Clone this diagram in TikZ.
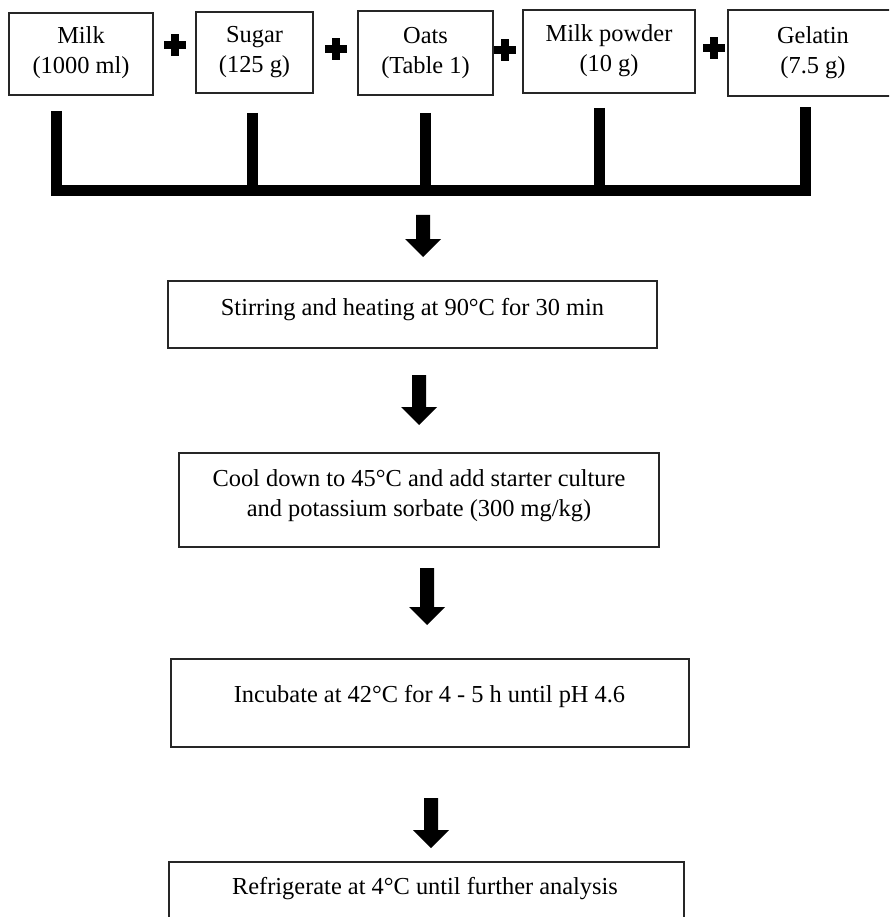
\documentclass[tikz,border=0pt]{standalone}
\usepackage{fontspec}
\setmainfont{Liberation Serif}
\tikzset{
  box/.style={draw=black!85, line width=1.6pt, rectangle, inner sep=0pt},
  lbl/.style={anchor=base, inner sep=0pt, font=\fontsize{24.4}{30}\selectfont},
  tlbl/.style={anchor=base, inner sep=0pt, font=\fontsize{24.4}{29.5}\selectfont},
  bar/.style={line width=11pt, line cap=butt, line join=miter},
  plussign/.pic={\fill (-11,-4) rectangle (11,4); \fill (-4,-11) rectangle (4,11);}
}
\newcommand\blockarrow[3]{% cx, top, tip
  \fill (#1-7,#2) -- (#1+7,#2) -- (#1+7,#3-18) -- (#1+18,#3-18) -- (#1,#3) -- (#1-18,#3-18) -- (#1-7,#3-18) -- cycle;}
\begin{document}
\begin{tikzpicture}[x=1pt,y=-1pt]
\useasboundingbox (0,0) rectangle (889,917);
\begin{scope}
\clip (0,0) rectangle (889,917);
% top ingredient boxes
\node[box, minimum width=144pt, minimum height=82pt] (milk) at (81,54) {};
\node[box, minimum width=117pt, minimum height=81pt] (sugar) at (254.5,52.5) {};
\node[box, minimum width=135pt, minimum height=84pt] (oats) at (425.5,53) {};
\node[box, minimum width=172pt, minimum height=83pt] (powder) at (609,51.5) {};
\node[box, minimum width=170pt, minimum height=86pt] (gelatin) at (813,53) {};
\node[tlbl] (milkt) at (81,44) {\begin{tabular}[t]{@{}c@{}}Milk\\(1000 ml)\end{tabular}};
\node[tlbl] (sugart) at (254.5,43) {\begin{tabular}[t]{@{}c@{}}Sugar\\(125 g)\end{tabular}};
\node[tlbl] (oatst) at (425.5,44) {\begin{tabular}[t]{@{}c@{}}Oats\\(Table 1)\end{tabular}};
\node[tlbl] (powdert) at (609,42) {\begin{tabular}[t]{@{}c@{}}Milk powder\\(10 g)\end{tabular}};
\node[tlbl] (gelatint) at (813,44) {\begin{tabular}[t]{@{}c@{}}Gelatin\\(7.5 g)\end{tabular}};
% plus signs
\pic at (175,45) {plussign};
\pic at (336,49) {plussign};
\pic at (505,50) {plussign};
\pic at (714,48) {plussign};
% bracket
\draw[bar] (56,111) -- (56,190.5) -- (805.5,190.5) -- (805.5,107);
\draw[bar] (252,113) -- (252,190);
\draw[bar] (425,113) -- (425,190);
\draw[bar] (599,108) -- (599,190);
% process boxes
\node[box, minimum width=489pt, minimum height=67pt] (s1) at (412.5,314.5) {};
\node[lbl] (s1t) at (412.5,315) {Stirring and heating at 90°C for 30 min};
\node[box, minimum width=480pt, minimum height=94pt] (s2) at (419,500) {};
\node[lbl] (s2t) at (419,486) {\begin{tabular}[t]{@{}c@{}}Cool down to 45°C and add starter culture\\and potassium sorbate (300 mg/kg)\end{tabular}};
\node[box, minimum width=518pt, minimum height=88pt] (s3) at (430,703) {};
\node[lbl] (s3t) at (429.5,702) {Incubate at 42°C for 4 - 5 h until pH 4.6};
\node[box, minimum width=515pt, minimum height=68pt] (s4) at (426.5,896) {};
\node[lbl] (s4t) at (425,894) {Refrigerate at 4°C until further analysis};
% block arrows
\blockarrow{423}{215}{257}
\blockarrow{419}{375}{425}
\blockarrow{427}{568}{625}
\blockarrow{431}{798}{848}
\end{scope}
\end{tikzpicture}
\end{document}
